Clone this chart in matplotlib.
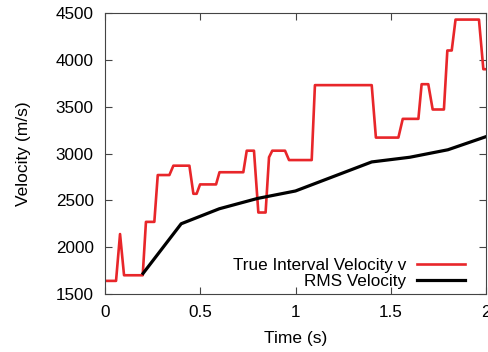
import numpy as np
import matplotlib
matplotlib.use("Agg")
import matplotlib.pyplot as plt

plt.rcParams['font.family'] = ['Liberation Sans', 'DejaVu Sans']

# true interval velocity
t_int = [0, 0.058, 0.079, 0.10, 0.198, 0.215, 0.259, 0.277, 0.338, 0.359, 0.443, 0.464,
         0.481, 0.499, 0.583, 0.601, 0.726, 0.744, 0.782, 0.805, 0.843, 0.861, 0.878, 0.945,
         0.966, 1.085, 1.102, 1.40, 1.422, 1.54, 1.563, 1.645, 1.662, 1.697, 1.72, 1.779,
         1.797, 1.82, 1.84, 1.963, 1.986, 2.0]
v_int = [1640, 1640, 2140, 1700, 1700, 2270, 2270, 2770, 2770, 2870, 2870, 2570,
         2570, 2670, 2670, 2800, 2800, 3030, 3030, 2370, 2370, 2960, 3030, 3030,
         2930, 2930, 3730, 3730, 3170, 3170, 3370, 3370, 3740, 3740, 3470, 3470,
         4100, 4100, 4430, 4430, 3900, 3900]

# rms velocity
t_rms = [0.2, 0.4, 0.6, 0.8, 1.0, 1.4, 1.6, 1.8, 2.0]
v_rms = [1720, 2250, 2410, 2520, 2600, 2910, 2960, 3040, 3180]

fig = plt.figure(figsize=(4.89, 3.52), dpi=100)
ax = fig.add_axes([0.2147, 0.1648, 0.9939 - 0.2147, 0.963 - 0.1648])

ax.plot(t_int, v_int, color="#e8262a", lw=1.9, label="True Interval Velocity v")
ax.plot(t_rms, v_rms, color="black", lw=2.3, label="RMS Velocity")

ax.set_xlim(0, 2)
ax.set_ylim(1500, 4500)
ax.set_xticks([0, 0.5, 1, 1.5, 2])
ax.set_xticklabels(["0", "0.5", "1", "1.5", "2"])
ax.set_yticks(np.arange(1500, 4501, 500))
ax.tick_params(direction="in", top=True, right=True, labelsize=12.3, length=5, color="#444444")
ax.tick_params(axis="x", pad=8)
ax.tick_params(axis="y", pad=8)
for s in ax.spines.values():
    s.set_color("#444444")
ax.set_xlabel("Time (s)", fontsize=12.5, labelpad=8)
ax.set_ylabel("Velocity (m/s)", fontsize=12.5, labelpad=18)

ax.legend(loc="lower right", bbox_to_anchor=(0.963, -0.005), frameon=False, markerfirst=False,
          fontsize=12.3, handlelength=2.8, handletextpad=0.65, borderaxespad=0, labelspacing=0.05)

fig.savefig("out.png", dpi=100)
